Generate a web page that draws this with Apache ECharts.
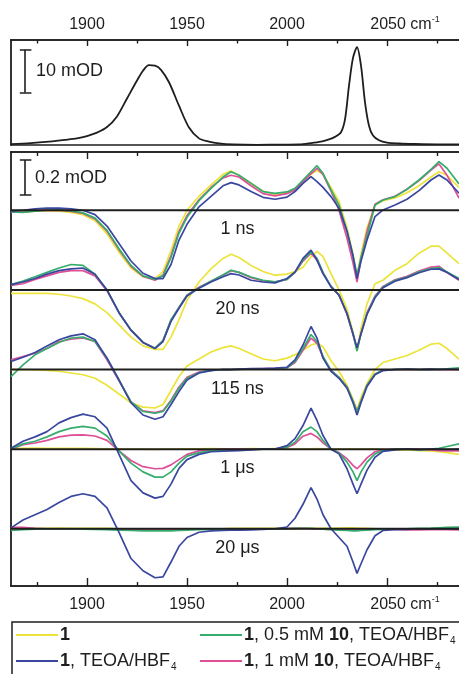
<!DOCTYPE html>
<html>
<head>
<meta charset="utf-8">
<title>Transient IR spectra</title>
<script src="https://cdn.jsdelivr.net/npm/echarts@6/dist/echarts.min.js"></script>
<style>
  html, body { margin: 0; padding: 0; background: #fff; }
  #chart { width: 459px; height: 674px; }
</style>
</head>
<body>
<div id="chart"></div>
<script>
// ground state FTIR (top panel), mOD
var topWn = [1862, 1872, 1881, 1889, 1895, 1900, 1905, 1910, 1915, 1920, 1925, 1928, 1931, 1934, 1937,
  1941, 1946, 1951, 1956, 1961, 1966, 1973, 1985, 1995, 2006, 2012, 2017, 2021, 2024, 2027, 2029, 2031,
  2033, 2035, 2037, 2039, 2041, 2043, 2046, 2050, 2056, 2064, 2075, 2086];
var topOD = [0.2, 0.45, 0.8, 1.2, 1.55, 2.1, 2.9, 4.2, 6.7, 10.9, 15.1, 17.4, 18.7, 18.6, 17.6,
  14.7, 9.2, 4.1, 1.55, 0.8, 0.4, 0.15, 0.05, 0.1, 0.15, 0.45, 0.8, 1.3, 1.9, 3.0, 6.0, 13.9,
  20.4, 22.9, 18.6, 10.0, 4.5, 2.2, 1.1, 0.55, 0.35, 0.23, 0.15, 0.15];

// wavenumber grid (cm-1) for the transient traces
var wn = [1862, 1868, 1874, 1880, 1886, 1892, 1898, 1904, 1910, 1916, 1922, 1928, 1934, 1938, 1942, 1946,
  1950, 1956, 1962, 1968, 1972, 1976, 1982, 1988, 1994, 2000, 2004, 2008, 2012, 2015, 2018, 2022, 2026,
  2030, 2033, 2035, 2037, 2040, 2044, 2048, 2054, 2060, 2066, 2072, 2076, 2080, 2086];

var delays = ['1 ns', '20 ns', '115 ns', '1 μs', '20 μs'];

// delta mOD, 1 ns
var ns1_yellow = [-0.008, -0.01, -0.005, -0.002, -0.005, -0.012, -0.025, -0.06, -0.135, -0.24,
  -0.33, -0.38, -0.39, -0.35, -0.23, -0.09, 0.0, 0.08, 0.145, 0.205,
  0.225, 0.2, 0.15, 0.11, 0.09, 0.1, 0.12, 0.165, 0.205, 0.228,
  0.205, 0.13, 0.05, -0.1, -0.25, -0.38, -0.25, -0.1, 0.03, 0.055,
  0.07, 0.1, 0.14, 0.19, 0.22, 0.2, 0.13];
var ns1_blue = [-0.005, 0.0, 0.008, 0.012, 0.012, 0.008, 0.0, -0.025, -0.09, -0.19,
  -0.29, -0.36, -0.39, -0.39, -0.31, -0.17, -0.08, 0.02, 0.08, 0.14,
  0.158, 0.145, 0.107, 0.074, 0.063, 0.075, 0.107, 0.154, 0.192, 0.164,
  0.131, 0.078, 0.011, -0.12, -0.26, -0.39, -0.29, -0.17, -0.036, 0.002,
  0.03, 0.063, 0.112, 0.173, 0.202, 0.173, 0.097];
var ns1_green = [-0.01, -0.012, -0.005, 0.0, 0.002, -0.004, -0.015, -0.045, -0.115, -0.22,
  -0.315, -0.375, -0.395, -0.375, -0.27, -0.13, -0.04, 0.055, 0.125, 0.19,
  0.22, 0.2, 0.155, 0.107, 0.097, 0.105, 0.126, 0.173, 0.22, 0.255,
  0.211, 0.116, 0.03, -0.12, -0.26, -0.37, -0.27, -0.15, 0.03, 0.059,
  0.078, 0.12, 0.173, 0.234, 0.278, 0.24, 0.15];
var ns1_pink = [-0.01, -0.01, -0.004, 0.0, 0.0, -0.006, -0.018, -0.05, -0.12, -0.225,
  -0.32, -0.378, -0.4, -0.37, -0.26, -0.12, -0.03, 0.06, 0.13, 0.185,
  0.2, 0.19, 0.14, 0.095, 0.082, 0.095, 0.118, 0.165, 0.21, 0.24,
  0.205, 0.11, 0.0, -0.16, -0.3, -0.41, -0.28, -0.12, 0.035, 0.06,
  0.08, 0.12, 0.17, 0.23, 0.265, 0.2, 0.07];

// 20 ns
var ns20_yellow = [-0.02, -0.02, -0.02, -0.02, -0.025, -0.035, -0.05, -0.08, -0.13, -0.2,
  -0.27, -0.32, -0.34, -0.34, -0.27, -0.17, -0.06, 0.045, 0.12, 0.18,
  0.204, 0.185, 0.14, 0.105, 0.084, 0.09, 0.105, 0.13, 0.19, 0.22,
  0.19, 0.093, 0.0, -0.11, -0.24, -0.35, -0.22, -0.08, 0.035, 0.055,
  0.112, 0.15, 0.21, 0.25, 0.25, 0.21, 0.15];
var ns20_blue = [0.03, 0.045, 0.065, 0.09, 0.11, 0.12, 0.125, 0.09, 0.0, -0.13,
  -0.23, -0.3, -0.335, -0.295, -0.18, -0.105, -0.035, 0.01, 0.045, 0.075,
  0.093, 0.085, 0.055, 0.045, 0.04, 0.065, 0.103, 0.18, 0.227, 0.17,
  0.093, 0.017, -0.03, -0.135, -0.25, -0.33, -0.25, -0.14, -0.045, 0.012,
  0.05, 0.07, 0.098, 0.118, 0.12, 0.1, 0.06];
var ns20_green = [0.03, 0.05, 0.075, 0.1, 0.125, 0.145, 0.14, 0.09, 0.0, -0.13,
  -0.23, -0.3, -0.333, -0.29, -0.17, -0.1, -0.03, 0.013, 0.05, 0.085,
  0.112, 0.1, 0.074, 0.055, 0.046, 0.06, 0.1, 0.17, 0.217, 0.18,
  0.1, 0.02, -0.03, -0.135, -0.25, -0.35, -0.25, -0.135, -0.04, 0.017,
  0.055, 0.074, 0.103, 0.122, 0.128, 0.103, 0.065];
var ns20_pink = [0.025, 0.035, 0.06, 0.08, 0.1, 0.11, 0.11, 0.08, -0.005, -0.13,
  -0.23, -0.3, -0.333, -0.29, -0.175, -0.1, -0.03, 0.015, 0.05, 0.085,
  0.11, 0.1, 0.07, 0.052, 0.045, 0.06, 0.1, 0.165, 0.21, 0.17,
  0.095, 0.02, -0.03, -0.14, -0.255, -0.34, -0.25, -0.13, -0.035, 0.02,
  0.058, 0.078, 0.108, 0.13, 0.135, 0.1, 0.055];

// 115 ns
var ns115_yellow = [0.0, 0.0, -0.002, -0.005, -0.01, -0.02, -0.03, -0.05, -0.09, -0.14,
  -0.19, -0.215, -0.22, -0.2, -0.12, -0.04, 0.02, 0.06, 0.1, 0.125,
  0.135, 0.12, 0.09, 0.06, 0.05, 0.065, 0.085, 0.11, 0.14, 0.15,
  0.13, 0.05, -0.01, -0.09, -0.17, -0.23, -0.16, -0.08, 0.0, 0.04,
  0.06, 0.08, 0.11, 0.145, 0.15, 0.12, 0.06];
var ns115_blue = [0.046, 0.07, 0.097, 0.135, 0.17, 0.192, 0.204, 0.17, 0.065, -0.06,
  -0.19, -0.26, -0.284, -0.27, -0.2, -0.126, -0.06, -0.02, -0.006, 0.0,
  0.0, 0.003, 0.005, 0.005, 0.008, 0.013, 0.055, 0.14, 0.246, 0.18,
  0.065, -0.01, -0.05, -0.107, -0.19, -0.26, -0.19, -0.097, -0.03, -0.006,
  0.0, 0.003, 0.0, 0.002, 0.0, 0.003, 0.0];
var ns115_green = [-0.04, 0.027, 0.084, 0.12, 0.154, 0.18, 0.185, 0.16, 0.065, -0.06,
  -0.185, -0.24, -0.25, -0.24, -0.18, -0.107, -0.05, -0.018, -0.005, 0.0,
  0.0, 0.0, 0.004, 0.004, 0.006, 0.01, 0.045, 0.12, 0.2, 0.16,
  0.075, -0.005, -0.045, -0.1, -0.18, -0.24, -0.18, -0.09, -0.025, -0.004,
  0.0, 0.002, 0.0, 0.0, 0.002, 0.004, 0.01];
var ns115_pink = [0.055, 0.074, 0.093, 0.12, 0.16, 0.173, 0.18, 0.16, 0.055, -0.065,
  -0.185, -0.236, -0.246, -0.235, -0.175, -0.1, -0.045, -0.015, -0.004, 0.0,
  0.0, 0.002, 0.004, 0.005, 0.006, 0.01, 0.04, 0.11, 0.18, 0.15,
  0.07, -0.005, -0.045, -0.1, -0.18, -0.24, -0.18, -0.09, -0.025, -0.004,
  0.0, 0.0, 0.0, 0.002, 0.0, 0.0, 0.0];

// 1 us
var us1_yellow = [0.005, 0.005, 0.006, 0.004, 0.005, 0.005, 0.004, 0.003, 0.002, 0.0,
  0.0, 0.0, -0.002, 0.0, 0.0, 0.0, 0.002, 0.002, 0.003, 0.002,
  0.002, 0.002, 0.003, 0.002, 0.003, 0.002, 0.0, 0.0, 0.002, 0.003,
  0.002, 0.0, 0.0, 0.0, 0.002, 0.0, 0.0, 0.002, 0.0, -0.003,
  -0.005, -0.005, -0.008, -0.01, -0.015, -0.02, -0.03];
var us1_blue = [0.005, 0.045, 0.07, 0.1, 0.15, 0.18, 0.2, 0.185, 0.12, -0.03,
  -0.18, -0.25, -0.28, -0.27, -0.2, -0.11, -0.06, -0.03, -0.015, -0.012,
  -0.01, -0.008, -0.005, 0.0, 0.0, 0.02, 0.06, 0.135, 0.234, 0.164,
  0.078, 0.0, -0.027, -0.112, -0.2, -0.255, -0.2, -0.12, -0.046, -0.013,
  -0.005, 0.0, -0.003, 0.0, 0.0, -0.002, 0.0];
var us1_green = [0.0, 0.03, 0.045, 0.07, 0.1, 0.12, 0.13, 0.12, 0.075, -0.01,
  -0.08, -0.13, -0.16, -0.16, -0.13, -0.08, -0.04, -0.02, -0.01, -0.005,
  -0.005, -0.004, -0.002, 0.0, 0.0, 0.012, 0.04, 0.1, 0.126, 0.1,
  0.05, 0.0, -0.022, -0.074, -0.13, -0.18, -0.13, -0.074, -0.027, -0.008,
  0.0, 0.0, -0.005, 0.0, 0.005, 0.015, 0.03];
var us1_pink = [0.0, 0.025, 0.035, 0.05, 0.07, 0.08, 0.082, 0.075, 0.05, -0.01,
  -0.065, -0.1, -0.112, -0.11, -0.09, -0.06, -0.03, -0.01, -0.004, 0.0,
  0.0, 0.0, 0.0, 0.0, 0.002, 0.01, 0.03, 0.074, 0.09, 0.07,
  0.036, 0.0, -0.02, -0.055, -0.093, -0.112, -0.09, -0.05, -0.015, -0.005,
  0.0, 0.0, 0.0, -0.005, -0.008, -0.01, -0.01];

// 20 us
var us20_yellow = [0.002, 0.002, 0.003, 0.003, 0.004, 0.003, 0.003, 0.002, 0.002, 0.0,
  0.0, 0.0, -0.002, 0.0, 0.0, 0.0, 0.0, 0.0, 0.0, 0.0,
  0.002, 0.002, 0.002, 0.003, 0.002, 0.0, 0.0, 0.002, 0.003, 0.003,
  0.002, 0.003, 0.004, 0.005, 0.005, 0.004, 0.003, 0.002, 0.0, 0.0,
  0.0, 0.0, 0.0, 0.0, 0.0, 0.0, 0.0];
var us20_blue = [0.005, 0.05, 0.08, 0.11, 0.15, 0.185, 0.2, 0.185, 0.12, -0.02,
  -0.17, -0.24, -0.28, -0.275, -0.19, -0.1, -0.05, -0.02, -0.012, -0.01,
  -0.008, -0.008, -0.006, -0.004, 0.0, 0.01, 0.06, 0.14, 0.235, 0.17,
  0.08, 0.0, -0.05, -0.1, -0.19, -0.255, -0.2, -0.12, -0.04, -0.01,
  -0.005, -0.004, 0.0, -0.002, 0.0, 0.0, 0.0];
var us20_green = [-0.01, -0.005, -0.002, 0.0, 0.0, 0.0, -0.002, -0.004, -0.005, -0.008,
  -0.01, -0.012, -0.012, -0.012, -0.012, -0.01, -0.008, -0.005, -0.004, -0.004,
  -0.003, -0.003, -0.002, 0.0, 0.0, 0.0, 0.002, 0.003, 0.003, 0.0,
  -0.002, -0.005, -0.008, -0.01, -0.012, -0.012, -0.01, -0.008, -0.005, -0.003,
  0.0, 0.0, 0.002, 0.004, 0.006, 0.008, 0.01];
var us20_pink = [0.008, 0.008, 0.003, 0.0, 0.0, 0.0, 0.0, 0.0, -0.002, -0.004,
  -0.005, -0.006, -0.006, -0.005, -0.004, -0.003, -0.002, 0.0, 0.0, 0.0,
  0.0, 0.0, 0.0, 0.0, 0.0, 0.002, 0.002, 0.002, 0.0, 0.0,
  -0.002, -0.004, -0.005, -0.006, -0.006, -0.006, -0.005, -0.004, -0.002, 0.0,
  -0.004, -0.006, -0.006, -0.005, -0.004, -0.005, -0.006];

var sampleNames = ['1', '1, TEOA/HBF4', '1, 0.5 mM 10, TEOA/HBF4', '1, 1 mM 10, TEOA/HBF4'];
var tickMajor = [1900, 1950, 2000, 2050];
var tickMinor = [1875, 1925, 1975, 2025, 2075];

var traces = {
  '1': [ns1_yellow, ns20_yellow, ns115_yellow, us1_yellow, us20_yellow],
  '1, 1 mM 10, TEOA/HBF4': [ns1_pink, ns20_pink, ns115_pink, us1_pink, us20_pink],
  '1, 0.5 mM 10, TEOA/HBF4': [ns1_green, ns20_green, ns115_green, us1_green, us20_green],
  '1, TEOA/HBF4': [ns1_blue, ns20_blue, ns115_blue, us1_blue, us20_blue]
};
var colors = {
  '1': '#ece43a',
  '1, TEOA/HBF4': '#3a479f',
  '1, 0.5 mM 10, TEOA/HBF4': '#36ad6c',
  '1, 1 mM 10, TEOA/HBF4': '#df4f98'
};
var richLabel = {
  '1': '{b|1}',
  '1, TEOA/HBF4': '{b|1}{n|, TEOA/HBF}{s|4}',
  '1, 0.5 mM 10, TEOA/HBF4': '{b|1}{n|, 0.5 mM }{b|10}{n|, TEOA/HBF}{s|4}',
  '1, 1 mM 10, TEOA/HBF4': '{b|1}{n|, 1 mM }{b|10}{n|, TEOA/HBF}{s|4}'
};

var OFFSET = 0.455;   // vertical spacing between delays (mOD)
var XMIN = 1862, XMAX = 2086;
var FONT = "'Liberation Sans', Arial, sans-serif";
var INK = '#1e1e1e';

var chart = echarts.init(document.getElementById('chart'), null, { renderer: 'canvas' });

function xAx(grid, pos, ticks, len, labelMargin) {
  return {
    type: 'value', gridIndex: grid, position: pos, offset: 0, min: XMIN, max: XMAX,
    axisLine: { show: true, onZero: false, lineStyle: { color: INK, width: 1.6 } },
    axisTick: { show: !!ticks, inside: true, length: len, customValues: ticks || [],
      lineStyle: { color: INK, width: 1.4 } },
    axisLabel: labelMargin ? {
      show: true, customValues: tickMajor, margin: labelMargin, fontSize: 16, lineHeight: 20,
      color: INK, fontFamily: FONT,
      formatter: function (v) { return v === 2050 ? '{p| }{t|2050 cm}{u|-1}' : '{t|' + v + '}'; },
      rich: {
        p: { width: 36, fontSize: 16, lineHeight: 20 },
        t: { fontSize: 16, lineHeight: 20, fontFamily: FONT, color: INK },
        u: { fontSize: 9, verticalAlign: 'top', lineHeight: 20, fontFamily: FONT, color: INK }
      }
    } : { show: false },
    splitLine: { show: false }
  };
}

var xAxes = [
  xAx(0, 'top', tickMajor, 6, 5),
  xAx(0, 'top', tickMinor, 3.5, 0),
  xAx(0, 'bottom', null, 0, 0),
  xAx(1, 'top', tickMajor, 7, 0),
  xAx(1, 'top', tickMinor, 4, 0),
  xAx(1, 'bottom', tickMajor, 8, 9),
  xAx(1, 'bottom', tickMinor, 4, 0)
];

var yAxes = [
  { type: 'value', gridIndex: 0, min: 0, max: 24.6 },
  { type: 'value', gridIndex: 1, min: -2.147, max: 0.333 }
].map(function (a) {
  a.axisLine = { show: true, onZero: false, lineStyle: { color: INK, width: 1.8 } };
  a.axisTick = { show: false };
  a.axisLabel = { show: false };
  a.splitLine = { show: false };
  return a;
});

var series = [];

// top panel: ground state spectrum
series.push({
  type: 'line', xAxisIndex: 0, yAxisIndex: 0, symbol: 'none', smooth: 0.3,
  data: topWn.map(function (x, i) { return [x, topOD[i]]; }),
  lineStyle: { color: INK, width: 1.8 }, silent: true
});

// transient traces, yellow -> pink -> green -> blue
Object.keys(traces).forEach(function (name) {
  traces[name].forEach(function (vals, k) {
    series.push({
      name: name, type: 'line', xAxisIndex: 5, yAxisIndex: 1, symbol: 'none',
      data: wn.map(function (x, i) { return [x, vals[i] - k * OFFSET]; }),
      itemStyle: { color: colors[name] },
      lineStyle: { color: colors[name], width: 1.7 }
    });
  });
});

// zero lines for each delay
delays.forEach(function (d, k) {
  series.push({
    type: 'line', xAxisIndex: 5, yAxisIndex: 1, symbol: 'none', z: 5, silent: true,
    data: [[XMIN, -k * OFFSET], [XMAX, -k * OFFSET]],
    lineStyle: { color: INK, width: 2 }
  });
});

var textLabel = { show: true, formatter: '{b}', fontSize: 18, color: INK, fontFamily: FONT, opacity: 1 };

// delay labels
series.push({
  type: 'scatter', xAxisIndex: 5, yAxisIndex: 1, symbolSize: 1, z: 6, silent: true,
  itemStyle: { color: 'rgba(0,0,0,0)' },
  data: delays.map(function (d, k) { return { value: [1975.2, -k * OFFSET - 0.11], name: d }; }),
  label: Object.assign({ position: 'inside' }, textLabel)
});

// scale bars
function scaleBar(xi, yi, lo, hi) {
  return {
    type: 'lines', coordinateSystem: 'cartesian2d', xAxisIndex: xi, yAxisIndex: yi, silent: true, z: 6,
    lineStyle: { color: INK, width: 1.6, opacity: 1 },
    data: [
      { coords: [[1869, lo], [1869, hi]] },
      { coords: [[1866.4, lo], [1872.2, lo]] },
      { coords: [[1866.4, hi], [1872.2, hi]] }
    ]
  };
}
series.push(scaleBar(0, 0, 12.3, 22.3));
series.push(scaleBar(5, 1, 0.087, 0.287));
series.push({
  type: 'scatter', xAxisIndex: 0, yAxisIndex: 0, symbolSize: 1, silent: true,
  itemStyle: { color: 'rgba(0,0,0,0)' },
  data: [{ value: [1874.2, 17.3], name: '10 mOD' }],
  label: Object.assign({ position: 'right', distance: 0 }, textLabel)
});
series.push({
  type: 'scatter', xAxisIndex: 5, yAxisIndex: 1, symbolSize: 1, silent: true,
  itemStyle: { color: 'rgba(0,0,0,0)' },
  data: [{ value: [1873.8, 0.182], name: '0.2 mOD' }],
  label: Object.assign({ position: 'right', distance: 0 }, textLabel)
});

var legendPos = [
  { name: '1', left: 16, top: 626 },
  { name: '1, 0.5 mM 10, TEOA/HBF4', left: 200, top: 626 },
  { name: '1, TEOA/HBF4', left: 16, top: 652 },
  { name: '1, 1 mM 10, TEOA/HBF4', left: 200, top: 652 }
];
var legends = legendPos.map(function (p) {
  return {
    data: [{ name: p.name, icon: 'rect' }], left: p.left, top: p.top,
    itemWidth: 42, itemHeight: 2, itemGap: 0,
    selectedMode: false, padding: 0,
    formatter: function (n) { return richLabel[n]; },
    textStyle: {
      color: INK, fontFamily: FONT, fontSize: 18, padding: [0, 0, 0, -3],
      rich: {
        b: { fontWeight: 'bold', fontSize: 18, lineHeight: 22, fontFamily: FONT, color: INK },
        n: { fontSize: 18, lineHeight: 22, fontFamily: FONT, color: INK },
        s: { fontSize: 10, lineHeight: 22, verticalAlign: 'bottom', fontFamily: FONT, color: INK, padding: [0, 0, 0, 1] }
      }
    }
  };
});

chart.setOption({
  animation: false,
  backgroundColor: '#ffffff',
  textStyle: { fontFamily: FONT },
  grid: [
    { left: 11, right: -1, top: 40, height: 105 },
    { left: 11, right: -1, top: 152, height: 434 }
  ],
  xAxis: xAxes,
  yAxis: yAxes,
  legend: legends,
  graphic: [{
    type: 'rect', silent: true, z: 10,
    shape: { x: 12, y: 622, width: 470, height: 80 },
    style: { fill: 'transparent', stroke: INK, lineWidth: 1.5 }
  }],
  series: series
});
</script>
</body>
</html>
